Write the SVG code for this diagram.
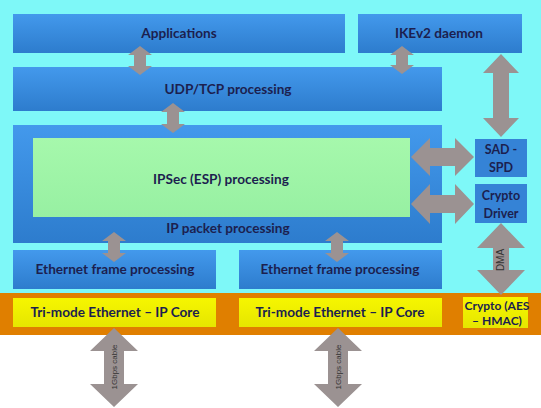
<svg xmlns="http://www.w3.org/2000/svg" width="541" height="408" viewBox="0 0 541 408">
<defs>
<linearGradient id="gBlue" x1="0" y1="0" x2="0" y2="1"><stop offset="0" stop-color="#4399ec"/><stop offset="1" stop-color="#2d7ccd"/></linearGradient>
<linearGradient id="gGreen" x1="0" y1="0" x2="0" y2="1"><stop offset="0" stop-color="#a6f8ac"/><stop offset="1" stop-color="#97f0a2"/></linearGradient>
<linearGradient id="gYellow" x1="0" y1="0" x2="0" y2="1"><stop offset="0" stop-color="#f6f600"/><stop offset="1" stop-color="#e6e600"/></linearGradient>
<style>
.blue{fill:url(#gBlue)}
.dark{fill:#3583d6}
.green{fill:url(#gGreen)}
.yel{fill:url(#gYellow)}
.t{font-family:Lato,"Liberation Sans",sans-serif;font-weight:bold;font-size:13.6px;fill:#1c1f4f;text-anchor:middle}
.n{font-size:12.5px}
.c{font-size:12px}
.s{font-family:"Liberation Sans",sans-serif;font-size:8px;fill:#333;text-anchor:middle}
.arr{fill:#9b9292}
</style>
</defs>
<rect x="0" y="0" width="541" height="408" fill="#ffffff"/>
<rect x="0" y="0" width="541" height="294" fill="#7ef8f8"/>
<rect x="0" y="293" width="541" height="42" fill="#e07f00"/>

<g id="applications"><rect class="blue" x="13" y="14" width="332" height="39"/><text class="t" x="179" y="38">Applications</text></g>
<g id="ikev2"><rect class="blue" x="358" y="14" width="164" height="39"/><text class="t" x="439" y="38">IKEv2 daemon</text></g>
<g id="udptcp"><rect class="blue" x="13" y="67" width="429" height="44"/><text class="t" x="228" y="94">UDP/TCP processing</text></g>
<g id="ip"><rect class="blue" x="13" y="125" width="429" height="118"/><text class="t" x="228" y="233">IP packet processing</text></g>
<g id="ipsec"><rect class="green" x="33" y="138" width="377" height="79"/><text class="t" x="221" y="184">IPSec (ESP) processing</text></g>
<g id="sadspd"><rect class="dark" x="475" y="139" width="52" height="38"/><text class="t n" x="501" y="154">SAD -</text><text class="t n" x="501" y="172">SPD</text></g>
<g id="cryptodriver"><rect class="dark" x="475" y="184" width="52" height="39"/><text class="t n" x="501" y="200">Crypto</text><text class="t n" x="501" y="218">Driver</text></g>
<g id="eth1"><rect class="blue" x="13" y="250" width="203" height="39"/><text class="t" x="115" y="274">Ethernet frame processing</text></g>
<g id="eth2"><rect class="blue" x="239" y="250" width="203" height="39"/><text class="t" x="340" y="274">Ethernet frame processing</text></g>
<g id="trimode1"><rect class="yel" x="13" y="298" width="203" height="29"/><text class="t" x="115" y="317">Tri-mode Ethernet – IP Core</text></g>
<g id="trimode2"><rect class="yel" x="239" y="298" width="203" height="29"/><text class="t" x="340" y="317">Tri-mode Ethernet – IP Core</text></g>
<g id="cryptoaes"><rect class="yel" x="463" y="297" width="65" height="31"/><text class="t c" x="497" y="310">Crypto (AES</text><text class="t c" x="497" y="325">– HMAC)</text></g>

<g id="connectors">
<polygon class="arr" points="140,46 152,55 146,55 146,66 152,66 140,75 128,66 134,66 134,55 128,55"/>
<polygon class="arr" points="402,46 414,55 408,55 408,65 414,65 402,74 390,65 396,65 396,55 390,55"/>
<polygon class="arr" points="173,103 185,112 179,112 179,124 185,124 173,133 161,124 167,124 167,112 161,112"/>
<polygon class="arr" points="114,232 126,241 120,241 120,253 126,253 114,262 102,253 108,253 108,241 102,241"/>
<polygon class="arr" points="337,232 349,241 343,241 343,253 349,253 337,262 325,253 331,253 331,241 325,241"/>
<polygon class="arr" points="501,54 519,73 509,73 509,118 519,118 501,137 483,118 493,118 493,73 483,73"/>
<polygon class="arr" points="411,157 430,138 430,148 455,148 455,138 474,157 455,176 455,166 430,166 430,176"/>
<polygon class="arr" points="411,204 430,184 430,195 455,195 455,184 474,204 455,224 455,213 430,213 430,224"/>
<polygon class="arr" points="501,223 525,248 509,248 509,270 525,270 501,295 477,270 493,270 493,248 477,248"/>
<text class="s" transform="translate(504,260) rotate(-90)" style="font-size:10px">DMA</text>
<polygon class="arr" points="114,328 138,351 124,351 124,384 138,384 114,407 90,384 104,384 104,351 90,351"/>
<text class="s" transform="translate(117,367) rotate(-90)">1Gbps cable</text>
<polygon class="arr" points="338,328 362,351 348,351 348,384 362,384 338,407 314,384 328,384 328,351 314,351"/>
<text class="s" transform="translate(341,367) rotate(-90)">1Gbps cable</text>
</g>
</svg>
